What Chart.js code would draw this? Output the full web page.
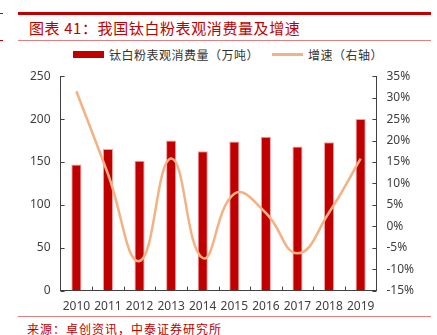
<!DOCTYPE html>
<html>
<head>
<meta charset="utf-8">
<script src="https://cdn.jsdelivr.net/npm/chart.js@4.4.1/dist/chart.umd.min.js"></script>
<style>
  body { margin: 0; width: 437px; height: 335px; background: #fff; position: relative; overflow: hidden; font-family: "Noto Sans CJK SC", sans-serif; }
  .bar-top { position: absolute; left: 18px; top: 12px; width: 413px; height: 3px; background: #c00000; }
  .mark { position: absolute; left: 0; width: 3px; height: 1px; background: #c00000; }
  .title { position: absolute; left: 29px; top: 17px; font-size: 15px; color: #c00000; letter-spacing: 0.6px; }
  .rule { position: absolute; left: 18px; width: 413px; height: 1px; background: #e08080; }
  .legend { position: absolute; top: 46px; left: 73px; font-size: 12px; color: #333; display: flex; align-items: center; letter-spacing: 0.5px; }
  .legend .sw1 { width: 31px; height: 7px; background: #c00000; margin-right: 5px; }
  .legend .sw2 { width: 31px; height: 3px; background: #f4b183; margin: 0 5px 0 13px; }
  .source { position: absolute; left: 27px; top: 320px; font-size: 12px; color: #c00000; letter-spacing: 1px; }
  #wrap { position: absolute; left: 0; top: 59px; width: 437px; height: 264px; }
</style>
</head>
<body>
<div class="bar-top"></div>
<div class="mark" style="top:13px"></div>
<div class="mark" style="top:40px"></div>
<div class="title">图表 41：我国钛白粉表观消费量及增速</div>
<div class="rule" style="top:40px"></div>
<div class="legend"><span class="sw1"></span>钛白粉表观消费量（万吨）<span class="sw2"></span>增速（右轴）</div>
<div class="rule" style="top:316px"></div>
<div class="source">来源：卓创资讯，中泰证券研究所</div>
<div id="wrap"><canvas id="c"></canvas></div>
<script>
const years = ['2010', '2011', '2012', '2013', '2014', '2015', '2016', '2017', '2018', '2019'];
const consumption = [147, 165, 151.5, 175, 162.5, 174, 179.5, 168, 173, 200];
const growth = [31.5, 12.2, -8.1, 15.8, -7.4, 7.6, 3.1, -6.3, 3.2, 15.8];

const tickColor = '#404040';
const tickFont = { family: '"Noto Sans", "DejaVu Sans", sans-serif', size: 12 };

// inside tick marks like the Excel original
const innerTicks = {
  id: 'innerTicks',
  afterDraw(chart) {
    const ctx = chart.ctx;
    const { left, right, bottom } = chart.chartArea;
    const x = chart.scales.x, y = chart.scales.y, y1 = chart.scales.y1;
    ctx.save();
    ctx.strokeStyle = '#404040';
    ctx.lineWidth = 1;
    ctx.beginPath();
    y.ticks.forEach((t, i) => {
      const py = Math.round(y.getPixelForTick(i)) + 0.5;
      ctx.moveTo(left, py); ctx.lineTo(left + 4, py);
    });
    y1.ticks.forEach((t, i) => {
      const py = Math.round(y1.getPixelForTick(i)) + 0.5;
      ctx.moveTo(right, py); ctx.lineTo(right - 4, py);
    });
    for (let i = 1; i < years.length; i++) {
      const px = Math.round((x.getPixelForValue(i - 1) + x.getPixelForValue(i)) / 2) + 0.5;
      ctx.moveTo(px, bottom); ctx.lineTo(px, bottom - 4);
    }
    ctx.stroke();
    ctx.restore();
  }
};

new Chart(document.getElementById('c'), {
  type: 'bar',
  data: {
    labels: years,
    datasets: [
      {
        type: 'line',
        label: '增速（右轴）',
        data: growth,
        yAxisID: 'y1',
        borderColor: '#f4b183',
        borderWidth: 2.5,
        pointRadius: 0,
        tension: 0.45,
        fill: false
      },
      {
        label: '钛白粉表观消费量（万吨）',
        data: consumption,
        yAxisID: 'y',
        backgroundColor: '#c00000',
        borderColor: '#f0a0a0',
        borderWidth: { top: 1, left: 1, right: 1, bottom: 0 },
        categoryPercentage: 1,
        barPercentage: 0.32
      }
    ]
  },
  options: {
    responsive: true,
    maintainAspectRatio: false,
    animation: false,
    layout: { padding: { left: 20, right: 13, top: 0, bottom: 0 } },
    plugins: { legend: { display: false }, tooltip: { enabled: false } },
    scales: {
      x: {
        grid: { display: false, drawTicks: false },
        border: { color: '#404040' },
        ticks: { color: tickColor, font: tickFont, padding: 9, maxRotation: 0 }
      },
      y: {
        position: 'left',
        min: 0, max: 250,
        ticks: { stepSize: 50, color: tickColor, font: tickFont, padding: 10 },
        grid: { display: false, drawTicks: false },
        border: { color: '#404040' }
      },
      y1: {
        position: 'right',
        min: -15, max: 35,
        ticks: { stepSize: 5, color: tickColor, font: tickFont, padding: 10, callback: v => v + '%' },
        grid: { display: false, drawTicks: false },
        border: { color: '#404040' }
      }
    }
  },
  plugins: [innerTicks]
});
</script>
</body>
</html>
